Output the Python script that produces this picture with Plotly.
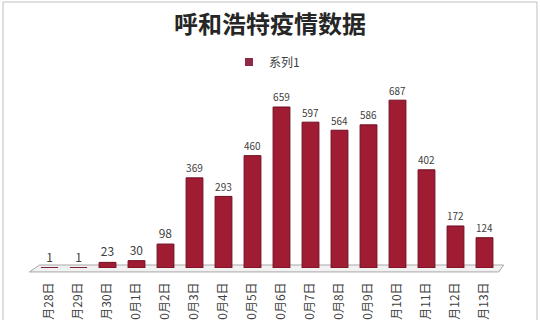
import plotly.graph_objects as go

categories = ["9月28日", "9月29日", "9月30日", "10月1日", "10月2日", "10月3日", "10月4日", "10月5日",
              "10月6日", "10月7日", "10月8日", "10月9日", "10月10日", "10月11日", "10月12日", "10月13日"]
values = [1, 1, 23, 30, 98, 369, 293, 460, 659, 597, 564, 586, 687, 402, 172, 124]
series_name = "系列1"
title_text = "呼和浩特疫情数据"

FONT = "Noto Sans CJK SC"
BAR = "#a01c32"

fig = go.Figure()
fig.add_trace(go.Bar(
    x=categories, y=values, name=series_name, showlegend=False,
    marker=dict(color=BAR, line=dict(color="#6e0f20", width=1)),
    text=values, textposition="outside",
    textfont=dict(family=FONT, size=12, color="#404040"),
    cliponaxis=False,
))
# legend entry with a small square swatch
fig.add_trace(go.Scatter(
    x=[None], y=[None], mode="markers", name=series_name,
    marker=dict(symbol="square", size=8, color="#8e2a45"),
))

fig.update_layout(
    width=540, height=320,
    margin=dict(l=35, r=41, t=97, b=52, autoexpand=False),
    paper_bgcolor="white", plot_bgcolor="white",
    font=dict(family=FONT, color="#404040"),
    title=dict(text="<b>" + title_text + "</b>", x=0.5, xanchor="center",
               y=1 - 25 / 320, yanchor="middle",
               font=dict(family=FONT, size=24, color="#262626")),
    showlegend=True,
    legend=dict(orientation="h", x=0.5, xanchor="center", y=(268 - 62) / 171, yanchor="middle",
                font=dict(family=FONT, size=12, color="#404040"), itemwidth=30,
                bgcolor="rgba(0,0,0,0)"),
    bargap=0.42,
    xaxis=dict(tickangle=-90, tickfont=dict(family=FONT, size=12, color="#404040"),
               showline=False, ticks="", automargin=False, ticklabelstandoff=11),
    yaxis=dict(range=[0, 700], visible=False, automargin=False),
    shapes=[
        dict(type="path", xref="paper", yref="paper",
             path="M -0.012,-0.023 L 0.9995,-0.023 L 1.01,0.0175 L 0.0097,0.0175 Z",
             fillcolor="#f2f2f2", line=dict(color="#a6a6a6", width=1), layer="below"),
        dict(type="rect", xref="paper", yref="paper", x0=-32 / 464, x1=1 + 38 / 464,
             y0=-60 / 171, y1=1 + 95 / 171, line=dict(color="#bfbfbf", width=1),
             fillcolor="rgba(0,0,0,0)", layer="below"),
    ],
)

fig.write_html("out.html")
